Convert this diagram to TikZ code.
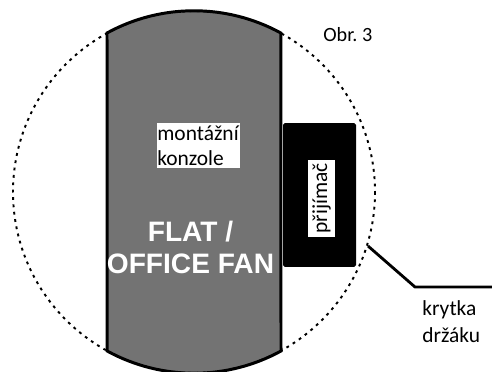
\documentclass[tikz,border=0pt]{standalone}
\usepackage{fontspec}
\setmainfont{Carlito}
\newfontfamily\fanfont{Liberation Sans}
\definecolor{fangray}{HTML}{737373}
\tikzset{
    label text/.style = {align = left, inner sep = 0pt, anchor = north west, font = \fontsize{12.2}{15.4}\selectfont},
    white box/.style = {fill = white, inner sep = 0pt, font = \fontsize{12.2}{14.2}\selectfont}
}
\begin{document}
\begin{tikzpicture}[x = 0.02cm, y = -0.02cm]
        \useasboundingbox (0,0) rectangle (492,371);
        \clip (0,0) rectangle (492,371);
        
        \coordinate (center) at (194,192);
        
        % fan body
        \draw [line width = 1.7pt, fill = fangray] (107,33) arc (-118.7:-61.3:181) -- (281,351) arc (61.3:118.7:181) -- cycle;
        
        % outline
        \draw [line width = 1.1pt, dash pattern = on 1.6pt off 2.6pt] (center) circle (181);
        
        % receiver
        \node [fill = black, rounded corners = 1pt, minimum width = 1.46cm, minimum height = 2.88cm, inner sep = 0pt] (receiver) at (319.5,195) {};
        \node [white box, rotate = 90, minimum width = 1.54cm, minimum height = 0.54cm] (receiverlabel) at (321.5,198.5) {přijímač};
        
        % bracket label
        \node [white box, align = left, anchor = north west, minimum height = 0.9cm, text width = 1.66cm] (bracket) at (157,123) {montážní\\konzole};
        
        % fan name
        \node [align = center, text = white, font = \fanfont\bfseries\fontsize{16}{18.2}\selectfont, inner sep = 0pt] (fanname) at (190.5,247) {FLAT /\\OFFICE FAN};
        
        % cover
        \coordinate (covertip) at (368,246);
        \coordinate (coverbend) at (415,287);
        \coordinate (coverend) at (492,287);
        \draw [line width = 1.6pt] (covertip) -- (coverbend) -- (coverend);
        \node [label text] (cover) at (422,300) {krytka\\držáku};
        
        \node [label text, font = \fontsize{11.5}{14}\selectfont] (figure) at (323,27) {Obr.~3};
\end{tikzpicture}
\end{document}
